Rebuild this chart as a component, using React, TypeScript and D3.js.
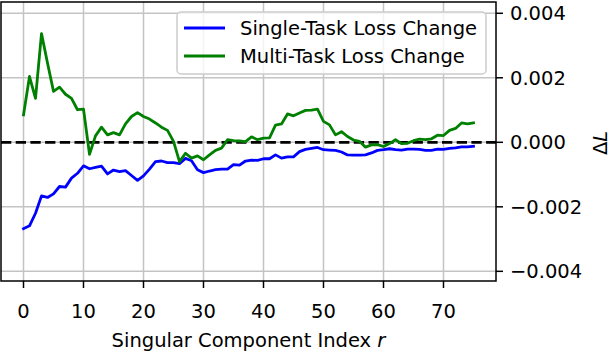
import React, { useEffect, useRef } from 'react';
import * as d3 from 'd3';

// Loss change per singular component index r = 0..75
const singleTask = [
  -0.00268, -0.00259, -0.0022, -0.00166, -0.00171, -0.0016, -0.00137, -0.00139, -0.00111, -0.00096,
  -0.00073, -0.00082, -0.00078, -0.00074, -0.00098, -0.00086, -0.00091, -0.00088, -0.00103, -0.00118,
  -0.00104, -0.00083, -0.0006, -0.00058, -0.00063, -0.00063, -0.00066, -0.0005, -0.00057, -0.00085,
  -0.00094, -0.00089, -0.00085, -0.00083, -0.00083, -0.00069, -0.00071, -0.00058, -0.00055, -0.00056,
  -0.00051, -0.00051, -0.00039, -0.00049, -0.00045, -0.00045, -0.00029, -0.00022, -0.00019, -0.00016,
  -0.00023, -0.00024, -0.00025, -0.0003, -0.00039, -0.0004, -0.0004, -0.00039, -0.00033, -0.00025,
  -0.00023, -0.0002, -0.00023, -0.00024, -0.00021, -0.00021, -0.00022, -0.00025, -0.00025, -0.00021,
  -0.00022, -0.00019, -0.00017, -0.00014, -0.00014, -0.00012,
];

const multiTask = [
  0.00085, 0.00204, 0.00136, 0.00337, 0.00246, 0.00158, 0.00171, 0.00149, 0.00136, 0.00101,
  0.00103, -0.00037, 0.0002, 0.00047, 0.00023, 0.0003, 0.00023, 0.00057, 0.0008, 0.00092,
  0.0008, 0.00072, 0.0006, 0.00047, 0.00037, 0.00003, -0.0006, -0.00034, -0.00049, -0.00042,
  -0.00054, -0.00039, -0.00025, -0.00018, 0.00008, 0.00005, 0.00004, 0.00002, 0.00017, 0.00008,
  0.00013, 0.00014, 0.00053, 0.00057, 0.00088, 0.00082, 0.00091, 0.00099, 0.001, 0.00103,
  0.00065, 0.00054, 0.00023, 0.00033, 0.00018, 0.00007, 0.00003, -0.00015, -0.00008, -0.00007,
  -0.00013, -0.00004, 0.00008, -0.00004, -0.00003, 0.00005, 0.0001, 0.00008, 0.00011, 0.00022,
  0.00021, 0.00037, 0.00043, 0.0006, 0.00057, 0.0006,
];

const xTicks = [0, 10, 20, 30, 40, 50, 60, 70];
const yTicks = [0.004, 0.002, 0, -0.002, -0.004];
const seriesNames = ['Single-Task Loss Change', 'Multi-Task Loss Change'];
const seriesColors = ['#0000ff', '#008000'];

function LossChart() {
  const svgRef = useRef<SVGSVGElement>(null);

  useEffect(() => {
    const width = 612;
    const height = 354;
    // plot box (svg is placed at page 0,0)
    const box = { left: 1, right: 496, top: 2, bottom: 281 };
    const font = 'DejaVu Sans, sans-serif';
    const fs = 19.5;

    const svg = d3.select(svgRef.current);
    svg.selectAll('*').remove();

    const x = d3.scaleLinear().domain([-3.75, 78.75]).range([box.left, box.right]);
    const y = d3.scaleLinear().domain([-0.0043, 0.00435]).range([box.bottom, box.top]);

    svg.append('rect').attr('width', width).attr('height', height).attr('fill', 'white');

    // grid
    const grid = svg.append('g').attr('stroke', '#c4c4c4').attr('stroke-width', 1.5);
    grid.selectAll('line.gx').data(xTicks).join('line')
      .attr('x1', d => x(d)).attr('x2', d => x(d))
      .attr('y1', box.top).attr('y2', box.bottom);
    grid.selectAll('line.gy').data(yTicks).join('line')
      .attr('x1', box.left).attr('x2', box.right)
      .attr('y1', d => y(d)).attr('y2', d => y(d));

    // zero line
    svg.append('line')
      .attr('x1', box.left).attr('x2', box.right)
      .attr('y1', y(0)).attr('y2', y(0))
      .attr('stroke', '#000').attr('stroke-width', 2.8)
      .attr('stroke-dasharray', '10.3,4.4');

    const line = d3.line<number>().x((_, i) => x(i)).y(d => y(d));
    [singleTask, multiTask].forEach((s, k) => {
      svg.append('path').datum(s)
        .attr('d', line)
        .attr('fill', 'none')
        .attr('stroke', seriesColors[k])
        .attr('stroke-width', 2.8)
        .attr('stroke-linejoin', 'round')
        .attr('stroke-linecap', 'square');
    });

    // spines
    svg.append('rect')
      .attr('x', box.left).attr('y', box.top)
      .attr('width', box.right - box.left).attr('height', box.bottom - box.top)
      .attr('fill', 'none').attr('stroke', '#000').attr('stroke-width', 1.5);

    // x ticks
    const xt = svg.append('g').attr('font-family', font).attr('font-size', fs);
    xt.selectAll('line').data(xTicks).join('line')
      .attr('x1', d => x(d)).attr('x2', d => x(d))
      .attr('y1', box.bottom).attr('y2', box.bottom + 7)
      .attr('stroke', '#000').attr('stroke-width', 1.5);
    xt.selectAll('text').data(xTicks).join('text')
      .attr('x', d => x(d)).attr('y', 317.5)
      .attr('text-anchor', 'middle')
      .text(d => d);

    // y ticks on the right
    const fmt = (d: number) => (d < 0 ? '\u2212' : '') + Math.abs(d).toFixed(3);
    const yt = svg.append('g').attr('font-family', font).attr('font-size', fs);
    yt.selectAll('line').data(yTicks).join('line')
      .attr('x1', box.right).attr('x2', box.right + 7)
      .attr('y1', d => y(d)).attr('y2', d => y(d))
      .attr('stroke', '#000').attr('stroke-width', 1.5);
    yt.selectAll('text').data(yTicks).join('text')
      .attr('x', box.right + 14).attr('y', d => y(d))
      .attr('dy', '0.36em')
      .text(fmt);

    // axis labels
    const xl = svg.append('text')
      .attr('x', (box.left + box.right) / 2).attr('y', 347)
      .attr('text-anchor', 'middle')
      .attr('font-family', font).attr('font-size', fs);
    xl.append('tspan').text('Singular Component Index ');
    xl.append('tspan').attr('font-style', 'italic').text('r');

    const yl = svg.append('text')
      .attr('transform', `translate(${607},${143}) rotate(-90)`)
      .attr('text-anchor', 'middle')
      .attr('font-family', font).attr('font-size', fs);
    yl.append('tspan').text('\u0394');
    yl.append('tspan').attr('font-style', 'italic').text('L');

    // legend
    const lg = svg.append('g');
    lg.append('rect')
      .attr('x', 177).attr('y', 12).attr('width', 309).attr('height', 62).attr('rx', 4)
      .attr('fill', 'white').attr('fill-opacity', 0.8)
      .attr('stroke', '#cccccc').attr('stroke-width', 1.5);
    seriesNames.forEach((name, i) => {
      const cy = 28 + i * 28;
      lg.append('line')
        .attr('x1', 184).attr('x2', 225).attr('y1', cy).attr('y2', cy)
        .attr('stroke', seriesColors[i]).attr('stroke-width', 2.8);
      lg.append('text')
        .attr('x', 240).attr('y', cy).attr('dy', '0.36em')
        .attr('font-family', font).attr('font-size', fs)
        .text(name);
    });
  }, []);

  return <svg ref={svgRef} width={612} height={354} style={{ display: 'block' }} />;
}

export default function App() {
  return (
    <div style={{ position: 'absolute', left: 0, top: 0 }}>
      <LossChart />
    </div>
  );
}
